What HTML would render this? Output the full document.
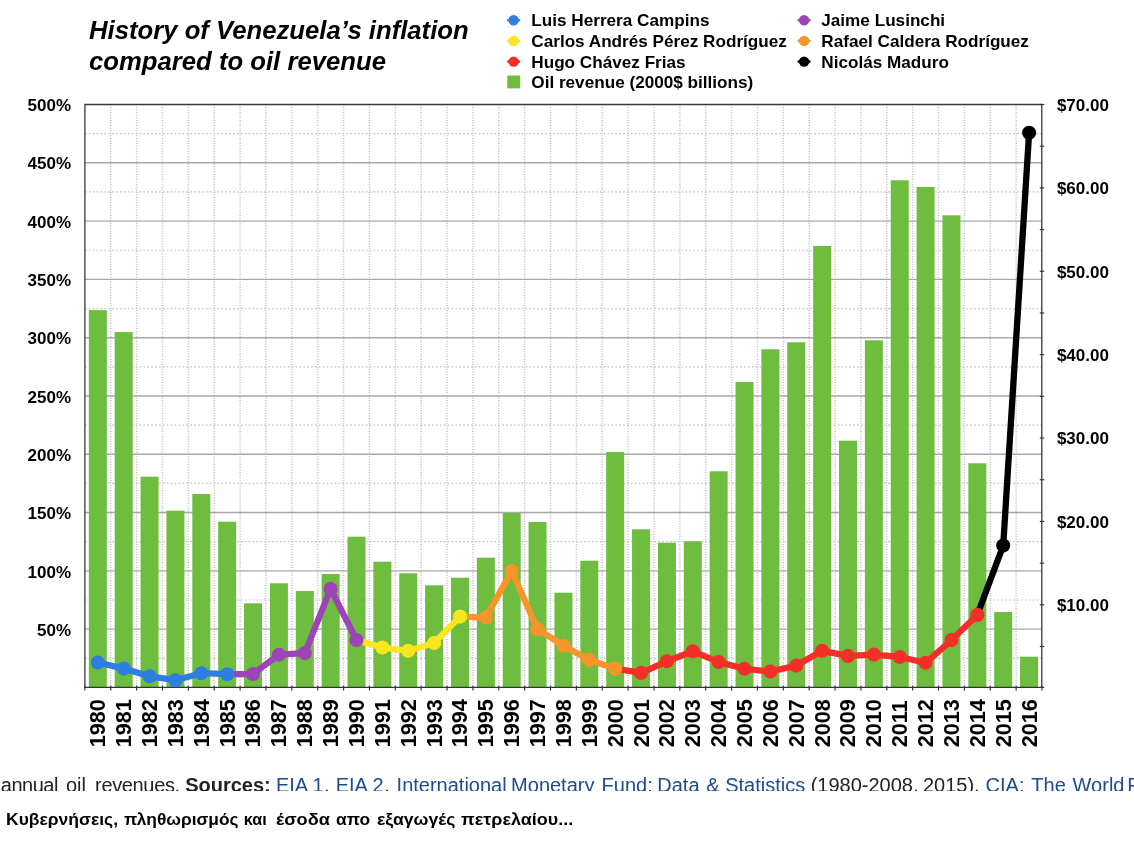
<!DOCTYPE html>
<html lang="el"><head><meta charset="utf-8"><title>History of Venezuela's inflation compared to oil revenue</title>
<style>
html,body{margin:0;padding:0;background:#fff;}
body{width:1134px;height:855px;overflow:hidden;position:relative;font-family:"Liberation Sans",sans-serif;}
#pg{position:absolute;left:0;top:0;width:1134px;height:855px;will-change:transform;}
svg{position:absolute;left:0;top:0;display:block;}
svg text{font-family:"Liberation Sans",sans-serif;}
.t{font-weight:bold;font-style:italic;font-size:25.7px;fill:#000;}
.lg{font-weight:bold;font-size:17.15px;fill:#000;}
.ax{font-weight:bold;font-size:17px;fill:#000;}
.yr{font-weight:bold;font-size:21.6px;fill:#000;}
.src{position:absolute;left:0;top:767px;height:24px;width:1134px;overflow:hidden;font-size:20px;line-height:24px;color:#222;}
.src span{position:absolute;top:6.4px;white-space:nowrap;}
.src .l{color:#1d4b91;}
.src .b{font-weight:bold;}
.cap{position:absolute;left:0;top:806.8px;width:700px;height:24px;font-weight:bold;font-size:16.2px;line-height:24px;color:#000;}
.cap span{position:absolute;top:0;white-space:nowrap;transform-origin:0 50%;}
</style></head><body><div id="pg">
<svg width="1134" height="855" viewBox="0 0 1134 855">
<text class="t" x="89" y="38.5">History of Venezuela’s inflation</text>
<text class="t" x="89" y="69.5">compared to oil revenue</text>
<g stroke="#bdbdbd" stroke-width="1.5" stroke-dasharray="1 1.57" fill="none">
<line x1="110.77" y1="104.5" x2="110.77" y2="687.45"/>
<line x1="136.64" y1="104.5" x2="136.64" y2="687.45"/>
<line x1="162.50" y1="104.5" x2="162.50" y2="687.45"/>
<line x1="188.37" y1="104.5" x2="188.37" y2="687.45"/>
<line x1="214.24" y1="104.5" x2="214.24" y2="687.45"/>
<line x1="240.11" y1="104.5" x2="240.11" y2="687.45"/>
<line x1="265.97" y1="104.5" x2="265.97" y2="687.45"/>
<line x1="291.84" y1="104.5" x2="291.84" y2="687.45"/>
<line x1="317.71" y1="104.5" x2="317.71" y2="687.45"/>
<line x1="343.58" y1="104.5" x2="343.58" y2="687.45"/>
<line x1="369.44" y1="104.5" x2="369.44" y2="687.45"/>
<line x1="395.31" y1="104.5" x2="395.31" y2="687.45"/>
<line x1="421.18" y1="104.5" x2="421.18" y2="687.45"/>
<line x1="447.05" y1="104.5" x2="447.05" y2="687.45"/>
<line x1="472.91" y1="104.5" x2="472.91" y2="687.45"/>
<line x1="498.78" y1="104.5" x2="498.78" y2="687.45"/>
<line x1="524.65" y1="104.5" x2="524.65" y2="687.45"/>
<line x1="550.52" y1="104.5" x2="550.52" y2="687.45"/>
<line x1="576.38" y1="104.5" x2="576.38" y2="687.45"/>
<line x1="602.25" y1="104.5" x2="602.25" y2="687.45"/>
<line x1="628.12" y1="104.5" x2="628.12" y2="687.45"/>
<line x1="653.99" y1="104.5" x2="653.99" y2="687.45"/>
<line x1="679.85" y1="104.5" x2="679.85" y2="687.45"/>
<line x1="705.72" y1="104.5" x2="705.72" y2="687.45"/>
<line x1="731.59" y1="104.5" x2="731.59" y2="687.45"/>
<line x1="757.46" y1="104.5" x2="757.46" y2="687.45"/>
<line x1="783.32" y1="104.5" x2="783.32" y2="687.45"/>
<line x1="809.19" y1="104.5" x2="809.19" y2="687.45"/>
<line x1="835.06" y1="104.5" x2="835.06" y2="687.45"/>
<line x1="860.93" y1="104.5" x2="860.93" y2="687.45"/>
<line x1="886.79" y1="104.5" x2="886.79" y2="687.45"/>
<line x1="912.66" y1="104.5" x2="912.66" y2="687.45"/>
<line x1="938.53" y1="104.5" x2="938.53" y2="687.45"/>
<line x1="964.40" y1="104.5" x2="964.40" y2="687.45"/>
<line x1="990.26" y1="104.5" x2="990.26" y2="687.45"/>
<line x1="1016.13" y1="104.5" x2="1016.13" y2="687.45"/>
</g>
<g stroke="#c2c2c2" stroke-width="1.2" stroke-dasharray="1.7 2.2" fill="none">
<line x1="84.9" y1="133.65" x2="1042.0" y2="133.65"/>
<line x1="84.9" y1="191.94" x2="1042.0" y2="191.94"/>
<line x1="84.9" y1="250.24" x2="1042.0" y2="250.24"/>
<line x1="84.9" y1="308.53" x2="1042.0" y2="308.53"/>
<line x1="84.9" y1="366.83" x2="1042.0" y2="366.83"/>
<line x1="84.9" y1="425.12" x2="1042.0" y2="425.12"/>
<line x1="84.9" y1="483.42" x2="1042.0" y2="483.42"/>
<line x1="84.9" y1="541.71" x2="1042.0" y2="541.71"/>
<line x1="84.9" y1="600.01" x2="1042.0" y2="600.01"/>
<line x1="84.9" y1="658.30" x2="1042.0" y2="658.30"/>
</g>
<g stroke="#a8a8a8" stroke-width="1.4" fill="none">
<line x1="84.9" y1="162.80" x2="1042.0" y2="162.80"/>
<line x1="84.9" y1="221.09" x2="1042.0" y2="221.09"/>
<line x1="84.9" y1="279.38" x2="1042.0" y2="279.38"/>
<line x1="84.9" y1="337.68" x2="1042.0" y2="337.68"/>
<line x1="84.9" y1="395.98" x2="1042.0" y2="395.98"/>
<line x1="84.9" y1="454.27" x2="1042.0" y2="454.27"/>
<line x1="84.9" y1="512.57" x2="1042.0" y2="512.57"/>
<line x1="84.9" y1="570.86" x2="1042.0" y2="570.86"/>
<line x1="84.9" y1="629.15" x2="1042.0" y2="629.15"/>
</g>
<g fill="#6EBD3E">
<rect x="88.83" y="310.1" width="18.0" height="377.4"/>
<rect x="114.70" y="332.1" width="18.0" height="355.4"/>
<rect x="140.57" y="476.7" width="18.0" height="210.8"/>
<rect x="166.44" y="510.7" width="18.0" height="176.8"/>
<rect x="192.30" y="494.0" width="18.0" height="193.5"/>
<rect x="218.17" y="521.7" width="18.0" height="165.8"/>
<rect x="244.04" y="603.3" width="18.0" height="84.2"/>
<rect x="269.91" y="583.3" width="18.0" height="104.2"/>
<rect x="295.77" y="591.0" width="18.0" height="96.5"/>
<rect x="321.64" y="574.0" width="18.0" height="113.5"/>
<rect x="347.51" y="536.7" width="18.0" height="150.8"/>
<rect x="373.38" y="561.7" width="18.0" height="125.8"/>
<rect x="399.24" y="573.3" width="18.0" height="114.2"/>
<rect x="425.11" y="585.3" width="18.0" height="102.2"/>
<rect x="450.98" y="577.7" width="18.0" height="109.8"/>
<rect x="476.85" y="557.7" width="18.0" height="129.8"/>
<rect x="502.71" y="513.0" width="18.0" height="174.5"/>
<rect x="528.58" y="522.0" width="18.0" height="165.5"/>
<rect x="554.45" y="592.7" width="18.0" height="94.8"/>
<rect x="580.32" y="560.7" width="18.0" height="126.8"/>
<rect x="606.19" y="452.0" width="18.0" height="235.5"/>
<rect x="632.05" y="529.3" width="18.0" height="158.2"/>
<rect x="657.92" y="542.7" width="18.0" height="144.8"/>
<rect x="683.79" y="541.3" width="18.0" height="146.2"/>
<rect x="709.66" y="471.3" width="18.0" height="216.2"/>
<rect x="735.52" y="382.0" width="18.0" height="305.5"/>
<rect x="761.39" y="349.3" width="18.0" height="338.2"/>
<rect x="787.26" y="342.3" width="18.0" height="345.2"/>
<rect x="813.13" y="246.0" width="18.0" height="441.5"/>
<rect x="838.99" y="440.7" width="18.0" height="246.8"/>
<rect x="864.86" y="340.3" width="18.0" height="347.2"/>
<rect x="890.73" y="180.3" width="18.0" height="507.2"/>
<rect x="916.60" y="187.0" width="18.0" height="500.5"/>
<rect x="942.46" y="215.3" width="18.0" height="472.2"/>
<rect x="968.33" y="463.3" width="18.0" height="224.2"/>
<rect x="994.20" y="612.0" width="18.0" height="75.5"/>
<rect x="1020.07" y="656.7" width="18.0" height="30.8"/>
</g>
<path d="M84.9 687.45V104.5H1041.8V687.45" stroke="#383838" stroke-width="1.3" fill="none"/>
<line x1="84.3" y1="687.45" x2="1042.4" y2="687.45" stroke="#333" stroke-width="1.25"/>
<g stroke="#333" stroke-width="1.15">
<line x1="84.90" y1="685.65" x2="84.90" y2="690.45"/>
<line x1="110.77" y1="685.65" x2="110.77" y2="690.45"/>
<line x1="136.64" y1="685.65" x2="136.64" y2="690.45"/>
<line x1="162.50" y1="685.65" x2="162.50" y2="690.45"/>
<line x1="188.37" y1="685.65" x2="188.37" y2="690.45"/>
<line x1="214.24" y1="685.65" x2="214.24" y2="690.45"/>
<line x1="240.11" y1="685.65" x2="240.11" y2="690.45"/>
<line x1="265.97" y1="685.65" x2="265.97" y2="690.45"/>
<line x1="291.84" y1="685.65" x2="291.84" y2="690.45"/>
<line x1="317.71" y1="685.65" x2="317.71" y2="690.45"/>
<line x1="343.58" y1="685.65" x2="343.58" y2="690.45"/>
<line x1="369.44" y1="685.65" x2="369.44" y2="690.45"/>
<line x1="395.31" y1="685.65" x2="395.31" y2="690.45"/>
<line x1="421.18" y1="685.65" x2="421.18" y2="690.45"/>
<line x1="447.05" y1="685.65" x2="447.05" y2="690.45"/>
<line x1="472.91" y1="685.65" x2="472.91" y2="690.45"/>
<line x1="498.78" y1="685.65" x2="498.78" y2="690.45"/>
<line x1="524.65" y1="685.65" x2="524.65" y2="690.45"/>
<line x1="550.52" y1="685.65" x2="550.52" y2="690.45"/>
<line x1="576.38" y1="685.65" x2="576.38" y2="690.45"/>
<line x1="602.25" y1="685.65" x2="602.25" y2="690.45"/>
<line x1="628.12" y1="685.65" x2="628.12" y2="690.45"/>
<line x1="653.99" y1="685.65" x2="653.99" y2="690.45"/>
<line x1="679.85" y1="685.65" x2="679.85" y2="690.45"/>
<line x1="705.72" y1="685.65" x2="705.72" y2="690.45"/>
<line x1="731.59" y1="685.65" x2="731.59" y2="690.45"/>
<line x1="757.46" y1="685.65" x2="757.46" y2="690.45"/>
<line x1="783.32" y1="685.65" x2="783.32" y2="690.45"/>
<line x1="809.19" y1="685.65" x2="809.19" y2="690.45"/>
<line x1="835.06" y1="685.65" x2="835.06" y2="690.45"/>
<line x1="860.93" y1="685.65" x2="860.93" y2="690.45"/>
<line x1="886.79" y1="685.65" x2="886.79" y2="690.45"/>
<line x1="912.66" y1="685.65" x2="912.66" y2="690.45"/>
<line x1="938.53" y1="685.65" x2="938.53" y2="690.45"/>
<line x1="964.40" y1="685.65" x2="964.40" y2="690.45"/>
<line x1="990.26" y1="685.65" x2="990.26" y2="690.45"/>
<line x1="1016.13" y1="685.65" x2="1016.13" y2="690.45"/>
<line x1="1042.00" y1="685.65" x2="1042.00" y2="690.45"/>
<line x1="1039.8" y1="104.50" x2="1044.2" y2="104.50"/>
<line x1="1039.8" y1="146.19" x2="1044.2" y2="146.19"/>
<line x1="1039.8" y1="187.89" x2="1044.2" y2="187.89"/>
<line x1="1039.8" y1="229.58" x2="1044.2" y2="229.58"/>
<line x1="1039.8" y1="271.27" x2="1044.2" y2="271.27"/>
<line x1="1039.8" y1="312.96" x2="1044.2" y2="312.96"/>
<line x1="1039.8" y1="354.66" x2="1044.2" y2="354.66"/>
<line x1="1039.8" y1="396.35" x2="1044.2" y2="396.35"/>
<line x1="1039.8" y1="438.04" x2="1044.2" y2="438.04"/>
<line x1="1039.8" y1="479.74" x2="1044.2" y2="479.74"/>
<line x1="1039.8" y1="521.43" x2="1044.2" y2="521.43"/>
<line x1="1039.8" y1="563.12" x2="1044.2" y2="563.12"/>
<line x1="1039.8" y1="604.81" x2="1044.2" y2="604.81"/>
<line x1="1039.8" y1="646.51" x2="1044.2" y2="646.51"/>
<line x1="1039.8" y1="687.45" x2="1044.2" y2="687.45"/>
</g>
<g fill="none" stroke-width="6.3" stroke-linejoin="round" stroke-linecap="round">
<polyline stroke="#000000" points="977.3,614.9 1003.2,545.6 1029.1,132.7"/>
<polyline stroke="#F42F27" points="615.2,668.6 641.1,672.9 666.9,661.3 692.8,651.2 718.7,662.1 744.5,668.8 770.4,671.5 796.3,665.6 822.1,650.8 848.0,655.9 873.9,654.6 899.7,657.0 925.6,662.8 951.5,640.1 977.3,614.9"/>
<polyline stroke="#F7952A" points="460.0,616.6 485.8,617.6 511.7,571.0 537.6,629.2 563.5,645.7 589.3,659.9 615.2,668.6"/>
<polyline stroke="#FBE521" points="356.5,640.0 382.4,647.6 408.2,650.8 434.1,643.0 460.0,616.6"/>
<polyline stroke="#9D44B8" points="227.2,674.2 253.0,674.0 278.9,654.7 304.8,653.1 330.6,588.9 356.5,640.0"/>
<polyline stroke="#2E7DE1" points="97.8,662.5 123.7,668.6 149.6,676.3 175.4,680.2 201.3,673.2 227.2,674.2"/>
</g>
<g fill="#2E7DE1">
<circle cx="97.8" cy="662.5" r="7.05"/>
<circle cx="123.7" cy="668.6" r="7.05"/>
<circle cx="149.6" cy="676.3" r="7.05"/>
<circle cx="175.4" cy="680.2" r="7.05"/>
<circle cx="201.3" cy="673.2" r="7.05"/>
<circle cx="227.2" cy="674.2" r="7.05"/>
</g>
<g fill="#9D44B8">
<circle cx="253.0" cy="674.0" r="7.05"/>
<circle cx="278.9" cy="654.7" r="7.05"/>
<circle cx="304.8" cy="653.1" r="7.05"/>
<circle cx="330.6" cy="588.9" r="7.05"/>
<circle cx="356.5" cy="640.0" r="7.05"/>
</g>
<g fill="#FBE521">
<circle cx="382.4" cy="647.6" r="7.05"/>
<circle cx="408.2" cy="650.8" r="7.05"/>
<circle cx="434.1" cy="643.0" r="7.05"/>
<circle cx="460.0" cy="616.6" r="7.05"/>
</g>
<g fill="#F7952A">
<circle cx="485.8" cy="617.6" r="7.05"/>
<circle cx="511.7" cy="571.0" r="7.05"/>
<circle cx="537.6" cy="629.2" r="7.05"/>
<circle cx="563.5" cy="645.7" r="7.05"/>
<circle cx="589.3" cy="659.9" r="7.05"/>
<circle cx="615.2" cy="668.6" r="7.05"/>
</g>
<g fill="#F42F27">
<circle cx="641.1" cy="672.9" r="7.05"/>
<circle cx="666.9" cy="661.3" r="7.05"/>
<circle cx="692.8" cy="651.2" r="7.05"/>
<circle cx="718.7" cy="662.1" r="7.05"/>
<circle cx="744.5" cy="668.8" r="7.05"/>
<circle cx="770.4" cy="671.5" r="7.05"/>
<circle cx="796.3" cy="665.6" r="7.05"/>
<circle cx="822.1" cy="650.8" r="7.05"/>
<circle cx="848.0" cy="655.9" r="7.05"/>
<circle cx="873.9" cy="654.6" r="7.05"/>
<circle cx="899.7" cy="657.0" r="7.05"/>
<circle cx="925.6" cy="662.8" r="7.05"/>
<circle cx="951.5" cy="640.1" r="7.05"/>
<circle cx="977.3" cy="614.9" r="7.05"/>
</g>
<g fill="#000000">
<circle cx="1003.2" cy="545.6" r="7.05"/>
<circle cx="1029.1" cy="132.7" r="7.05"/>
</g>
<text class="ax" x="71" y="110.9" text-anchor="end">500%</text>
<text class="ax" x="71" y="169.3" text-anchor="end">450%</text>
<text class="ax" x="71" y="227.6" text-anchor="end">400%</text>
<text class="ax" x="71" y="286.0" text-anchor="end">350%</text>
<text class="ax" x="71" y="344.3" text-anchor="end">300%</text>
<text class="ax" x="71" y="402.7" text-anchor="end">250%</text>
<text class="ax" x="71" y="461.1" text-anchor="end">200%</text>
<text class="ax" x="71" y="519.4" text-anchor="end">150%</text>
<text class="ax" x="71" y="577.8" text-anchor="end">100%</text>
<text class="ax" x="71" y="636.1" text-anchor="end">50%</text>
<text class="ax" x="1056.9" y="110.9">$70.00</text>
<text class="ax" x="1056.9" y="194.3">$60.00</text>
<text class="ax" x="1056.9" y="277.7">$50.00</text>
<text class="ax" x="1056.9" y="361.1">$40.00</text>
<text class="ax" x="1056.9" y="444.4">$30.00</text>
<text class="ax" x="1056.9" y="527.8">$20.00</text>
<text class="ax" x="1056.9" y="611.2">$10.00</text>
<text class="yr" transform="translate(105.2 747.3) rotate(-90)">1980</text>
<text class="yr" transform="translate(131.1 747.3) rotate(-90)">1981</text>
<text class="yr" transform="translate(157.0 747.3) rotate(-90)">1982</text>
<text class="yr" transform="translate(182.8 747.3) rotate(-90)">1983</text>
<text class="yr" transform="translate(208.7 747.3) rotate(-90)">1984</text>
<text class="yr" transform="translate(234.6 747.3) rotate(-90)">1985</text>
<text class="yr" transform="translate(260.4 747.3) rotate(-90)">1986</text>
<text class="yr" transform="translate(286.3 747.3) rotate(-90)">1987</text>
<text class="yr" transform="translate(312.2 747.3) rotate(-90)">1988</text>
<text class="yr" transform="translate(338.0 747.3) rotate(-90)">1989</text>
<text class="yr" transform="translate(363.9 747.3) rotate(-90)">1990</text>
<text class="yr" transform="translate(389.8 747.3) rotate(-90)">1991</text>
<text class="yr" transform="translate(415.6 747.3) rotate(-90)">1992</text>
<text class="yr" transform="translate(441.5 747.3) rotate(-90)">1993</text>
<text class="yr" transform="translate(467.4 747.3) rotate(-90)">1994</text>
<text class="yr" transform="translate(493.2 747.3) rotate(-90)">1995</text>
<text class="yr" transform="translate(519.1 747.3) rotate(-90)">1996</text>
<text class="yr" transform="translate(545.0 747.3) rotate(-90)">1997</text>
<text class="yr" transform="translate(570.9 747.3) rotate(-90)">1998</text>
<text class="yr" transform="translate(596.7 747.3) rotate(-90)">1999</text>
<text class="yr" transform="translate(622.6 747.3) rotate(-90)">2000</text>
<text class="yr" transform="translate(648.5 747.3) rotate(-90)">2001</text>
<text class="yr" transform="translate(674.3 747.3) rotate(-90)">2002</text>
<text class="yr" transform="translate(700.2 747.3) rotate(-90)">2003</text>
<text class="yr" transform="translate(726.1 747.3) rotate(-90)">2004</text>
<text class="yr" transform="translate(751.9 747.3) rotate(-90)">2005</text>
<text class="yr" transform="translate(777.8 747.3) rotate(-90)">2006</text>
<text class="yr" transform="translate(803.7 747.3) rotate(-90)">2007</text>
<text class="yr" transform="translate(829.5 747.3) rotate(-90)">2008</text>
<text class="yr" transform="translate(855.4 747.3) rotate(-90)">2009</text>
<text class="yr" transform="translate(881.3 747.3) rotate(-90)">2010</text>
<text class="yr" transform="translate(907.1 747.3) rotate(-90)">2011</text>
<text class="yr" transform="translate(933.0 747.3) rotate(-90)">2012</text>
<text class="yr" transform="translate(958.9 747.3) rotate(-90)">2013</text>
<text class="yr" transform="translate(984.7 747.3) rotate(-90)">2014</text>
<text class="yr" transform="translate(1010.6 747.3) rotate(-90)">2015</text>
<text class="yr" transform="translate(1036.5 747.3) rotate(-90)">2016</text>
<line x1="508.3" y1="20.2" x2="518.9" y2="20.2" stroke="#2E7DE1" stroke-width="2.6" stroke-linecap="round"/><circle cx="513.6" cy="20.2" r="5.2" fill="#2E7DE1"/>
<text class="lg" x="531.3" y="26.1">Luis Herrera Campins</text>
<line x1="508.3" y1="40.9" x2="518.9" y2="40.9" stroke="#FBE521" stroke-width="2.6" stroke-linecap="round"/><circle cx="513.6" cy="40.9" r="5.2" fill="#FBE521"/>
<text class="lg" x="531.3" y="46.8">Carlos Andrés Pérez Rodríguez</text>
<line x1="508.3" y1="61.6" x2="518.9" y2="61.6" stroke="#F42F27" stroke-width="2.6" stroke-linecap="round"/><circle cx="513.6" cy="61.6" r="5.2" fill="#F42F27"/>
<text class="lg" x="531.3" y="67.5">Hugo Chávez Frias</text>
<line x1="798.8" y1="20.2" x2="809.4" y2="20.2" stroke="#9D44B8" stroke-width="2.6" stroke-linecap="round"/><circle cx="804.1" cy="20.2" r="5.2" fill="#9D44B8"/>
<text class="lg" x="821.3" y="26.1">Jaime Lusinchi</text>
<line x1="798.8" y1="40.9" x2="809.4" y2="40.9" stroke="#F7952A" stroke-width="2.6" stroke-linecap="round"/><circle cx="804.1" cy="40.9" r="5.2" fill="#F7952A"/>
<text class="lg" x="821.3" y="46.8">Rafael Caldera Rodríguez</text>
<line x1="798.8" y1="61.6" x2="809.4" y2="61.6" stroke="#000" stroke-width="2.6" stroke-linecap="round"/><circle cx="804.1" cy="61.6" r="5.2" fill="#000"/>
<text class="lg" x="821.3" y="67.5">Nicolás Maduro</text>
<rect x="507.3" y="75.5" width="12.9" height="12.9" fill="#6EBD3E"/>
<text class="lg" x="531.3" y="87.6">Oil revenue (2000$ billions)</text>
</svg>
<div class="src">
<span class="" style="left:0.8px;letter-spacing:-0.5px;">annual</span>
<span class="" style="left:66px;">oil</span>
<span class="" style="left:95.1px;letter-spacing:-0.35px;">revenues.</span>
<span class="b" style="left:185.2px;">Sources:</span>
<span class="l" style="left:275.9px;">EIA 1</span>
<span class="" style="left:324px;">,</span>
<span class="l" style="left:335.7px;">EIA 2</span>
<span class="" style="left:384.3px;">,</span>
<span class="l" style="left:396.6px;">International</span>
<span class="l" style="left:511.1px;">Monetary</span>
<span class="l" style="left:601.6px;">Fund:</span>
<span class="l" style="left:657.3px;">Data</span>
<span class="l" style="left:706.2px;">&amp;</span>
<span class="l" style="left:725.2px;">Statistics</span>
<span class="" style="left:810.7px;">(1980-2008,</span>
<span class="" style="left:922.9px;">2015),</span>
<span class="l" style="left:985.6px;">CIA:</span>
<span class="l" style="left:1031.3px;">The</span>
<span class="l" style="left:1072.6px;">World</span>
<span class="l" style="left:1127.2px;">Factbook</span>
</div>
<div class="cap">
<span style="left:5.9px;transform:scaleX(1.08)">Κυβερνήσεις,</span>
<span style="left:123.6px;transform:scaleX(1.072)">πληθωρισμός</span>
<span style="left:243.8px;transform:scaleX(1.0)">και</span>
<span style="left:276.3px;transform:scaleX(1.12)">έσοδα</span>
<span style="left:335.9px;transform:scaleX(1.07)">απο</span>
<span style="left:376.6px;transform:scaleX(1.088)">εξαγωγές</span>
<span style="left:460.5px;transform:scaleX(1.11)">πετρελαίου...</span>
</div>
</div></body></html>
